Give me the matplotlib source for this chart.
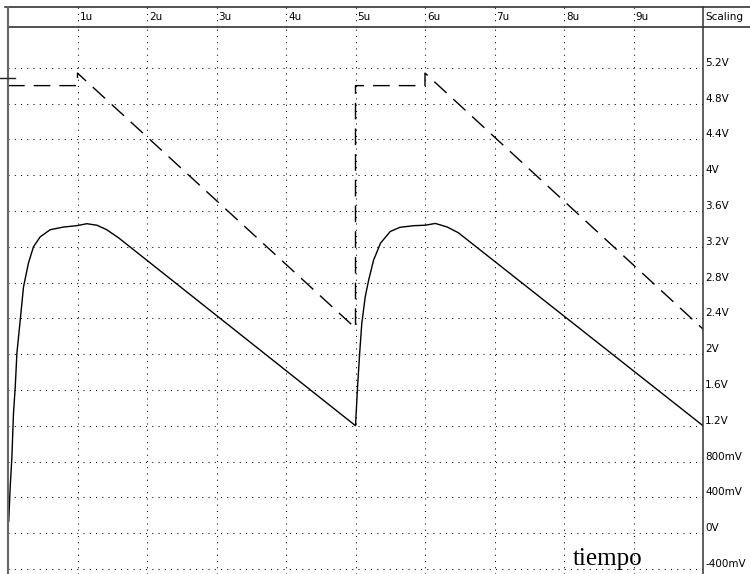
import matplotlib
matplotlib.use("Agg")
import matplotlib.pyplot as plt
from matplotlib.lines import Line2D

# trace values (time in us, volts)
solid_t = [0.01, 0.032, 0.056, 0.079, 0.104, 0.128, 0.176, 0.223, 0.295, 0.367,
           0.463, 0.607, 0.80, 0.99, 1.135, 1.28, 1.42, 1.59, 5.0,
           5.03, 5.06, 5.09, 5.14, 5.19, 5.26, 5.36, 5.5, 5.64, 5.84, 6.0,
           6.15, 6.32, 6.48, 10.0]
solid_v = [0.13, 0.52, 0.85, 1.34, 1.63, 2.01, 2.38, 2.75, 3.02, 3.20,
           3.31, 3.39, 3.42, 3.435, 3.457, 3.44, 3.39, 3.30, 1.2,
           1.64, 2.01, 2.34, 2.64, 2.83, 3.05, 3.24, 3.37, 3.417, 3.435, 3.44,
           3.46, 3.42, 3.356, 1.2]

dash_t = [0, 1, 1, 5, 5, 6, 6, 10]
dash_v = [5.0, 5.0, 5.14, 2.29, 5.0, 5.0, 5.14, 2.28]

x_ticks = [1, 2, 3, 4, 5, 6, 7, 8, 9]
x_labels = ["1u", "2u", "3u", "4u", "5u", "6u", "7u", "8u", "9u"]
y_ticks = [5.2, 4.8, 4.4, 4.0, 3.6, 3.2, 2.8, 2.4, 2.0, 1.6, 1.2, 0.8, 0.4, 0.0, -0.4]
y_labels = ["5.2V", "4.8V", "4.4V", "4V", "3.6V", "3.2V", "2.8V", "2.4V", "2V",
            "1.6V", "1.2V", "800mV", "400mV", "0V", "-400mV"]

W, H = 750, 574
fig = plt.figure(figsize=(7.5, 5.74), dpi=100)
fig.patch.set_facecolor("white")

def fx(px):
    return px / W

def fy(py):
    return 1 - py / H

small = dict(family="DejaVu Sans", fontsize=7.5, color="black")
dots = (0, (1, 5))

# main scope area
ax = fig.add_axes([fx(8), 0, fx(703) - fx(8), fy(27)])
ax.set_xlim(0, 10)
ax.set_ylim(-0.457, 5.655)
ax.set_xticks(x_ticks)
ax.set_yticks(y_ticks)
ax.tick_params(length=0, labelbottom=False, labelleft=False)
ax.grid(True, linestyle=dots, linewidth=0.75, color="black")
for s in ax.spines.values():
    s.set_visible(False)

ax.plot(solid_t, solid_v, color="black", lw=1.0, solid_joinstyle="round")
ax.plot(dash_t, dash_v, color="black", lw=1.0, dashes=(12, 6.5))

for v, lab in zip(y_ticks, y_labels):
    ax.text(1.003, v, lab, transform=ax.get_yaxis_transform(), ha="left",
            va="bottom", clip_on=False, **small)

ax.text(8.13, -0.356, "tiempo", family="Liberation Serif", fontsize=18,
        ha="left", va="baseline")

# header strip with the time labels
hx = fig.add_axes([fx(8), fy(27), fx(703) - fx(8), fy(7) - fy(27)])
hx.set_xlim(0, 10)
hx.set_ylim(0, 1)
hx.axis("off")
for t, lab in zip(x_ticks, x_labels):
    hx.axvline(t, linestyle=dots, linewidth=0.75, color="black")
    hx.text(t + 0.03, 0.5, lab, ha="left", va="center", **small)
hx.text(10.03, 0.5, "Scaling", ha="left", va="center", clip_on=False, **small)

# frame lines
frame = [
    ([fx(5), 1], [fy(7), fy(7)], "#222222", 1.1),
    ([fx(8), 1], [fy(27), fy(27)], "#222222", 1.1),
    ([fx(8), fx(8)], [fy(7), 0], "#666666", 1.5),
    ([fx(703), fx(703)], [fy(7), 0], "#333333", 1.1),
    ([fx(0), fx(15)], [fy(78), fy(78)], "#222222", 1.0),
]
for xs, ys, c, lw in frame:
    fig.add_artist(Line2D(xs, ys, color=c, lw=lw, transform=fig.transFigure))

fig.savefig("out.png", dpi=100)
